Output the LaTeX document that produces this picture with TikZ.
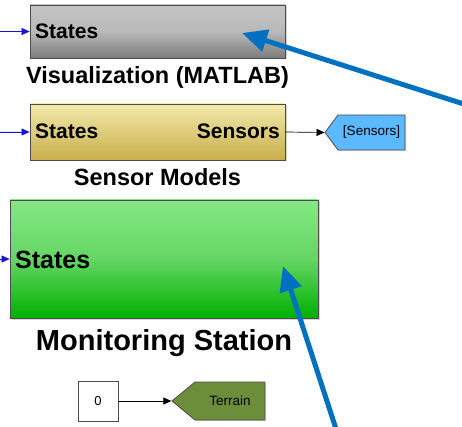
\documentclass[tikz,border=0pt]{standalone}
\usepackage{fontspec}
\setmainfont{Liberation Sans}
\usetikzlibrary{arrows.meta,shapes.symbols,shadows}

\definecolor{visTop}{RGB}{196,196,196}
\definecolor{visBot}{RGB}{124,124,124}
\definecolor{senTop}{RGB}{244,234,172}
\definecolor{senBot}{RGB}{200,174,76}
\definecolor{monTop}{RGB}{132,232,132}
\definecolor{monMid}{RGB}{100,214,100}
\definecolor{monBot}{RGB}{0,176,0}
\definecolor{tagBlue}{RGB}{92,184,255}
\definecolor{tagGreen}{RGB}{108,142,58}
\definecolor{portBlue}{RGB}{20,20,220}
\definecolor{calloutBlue}{RGB}{0,112,192}

\tikzset{
  block/.style={draw=black!70, line width=0.8pt, minimum width=255pt, inner sep=0pt,
    drop shadow={shadow xshift=1.5pt, shadow yshift=-1.5pt, opacity=0.35}},
  port/.style={font=\bfseries\fontsize{21}{21}\selectfont, inner sep=0pt},
  blocklabel/.style={font=\bfseries\fontsize{23.5}{24}\selectfont, inner sep=0pt, anchor=base},
  tagbox/.style={shape=signal, signal to=west, draw=black!70, line width=0.8pt, inner sep=0pt,
    font=\fontsize{13.5}{14}\selectfont,
    drop shadow={shadow xshift=1.2pt, shadow yshift=-1.2pt, opacity=0.3}},
  sigline/.style={line width=0.7pt, -{Triangle[length=8pt,width=7pt]}},
  bigarrow/.style={draw=calloutBlue, line width=5pt, -{Triangle[length=25pt,width=22pt]}}
}

\begin{document}
\begin{tikzpicture}[x=1pt,y=-1pt]
  \useasboundingbox (0,0) rectangle (462,427);

  % visualization block
  \node[block, top color=visTop, bottom color=visBot, middle color=visTop!85!visBot,
        minimum height=53pt] (vis) at (157.5,31.5) {};
  \node[port, anchor=base west] (visStates) at (35,39) {States};
  \node[blocklabel] (visLabel) at (157.5,84) {Visualization (MATLAB)};
  \coordinate (visIn) at (0,31.5);
  \draw[sigline, draw=portBlue, fill=portBlue, line width=0.5pt] (visIn) -- (vis.west);

  % sensor models block
  \node[block, top color=senTop, bottom color=senBot, minimum height=56pt] (sen) at (157.5,132) {};
  \node[port, anchor=base west] (senStates) at (35,139) {States};
  \node[port, anchor=base east] (senOut) at (280,139) {Sensors};
  \node[blocklabel] (senLabel) at (157.5,186) {Sensor Models};
  \coordinate (senIn) at (0,132);
  \draw[sigline, draw=portBlue, fill=portBlue, line width=0.5pt] (senIn) -- (sen.west);
  \node[tagbox, fill=tagBlue, minimum width=80pt, minimum height=35pt,
        signal pointer angle=107] (senTag) at (371.5,132.5) {[Sensors]};
  \draw[sigline] (sen.east) -- (senTag.west);

  % monitoring station block
  \node[block, top color=monTop, bottom color=monBot, middle color=monMid,
        minimum width=308pt, minimum height=118pt] (mon) at (164,259) {};
  \node[port, anchor=base west, font=\bfseries\fontsize{25}{25}\selectfont] (monStates) at (15,268) {States};
  \node[blocklabel, font=\bfseries\fontsize{29}{29}\selectfont] (monLabel) at (164,350) {Monitoring Station};
  \coordinate (monIn) at (0,259);
  \draw[sigline, draw=portBlue, fill=portBlue, line width=0.5pt] (monIn) -- (mon.west);

  % terrain constant
  \node[draw=black!70, fill=white, line width=0.8pt, minimum width=40pt, minimum height=40pt,
        inner sep=0pt, font=\fontsize{13}{13}\selectfont,
        drop shadow={shadow xshift=1.2pt, shadow yshift=-1.2pt, opacity=0.3}] (zero) at (98,401) {0};
  \node[tagbox, fill=tagGreen, minimum width=93pt, minimum height=38pt,
        signal pointer angle=79] (terTag) at (230,401) {Terrain};
  \draw[sigline] (zero.east) -- (terTag.west);

  % callout arrows
  \coordinate (callA) at (470,106);
  \coordinate (tipA) at (242,33);
  \coordinate (callB) at (337,432);
  \coordinate (tipB) at (283,266);
  \draw[bigarrow] (callA) -- (tipA);
  \draw[bigarrow] (callB) -- (tipB);
\end{tikzpicture}
\end{document}
